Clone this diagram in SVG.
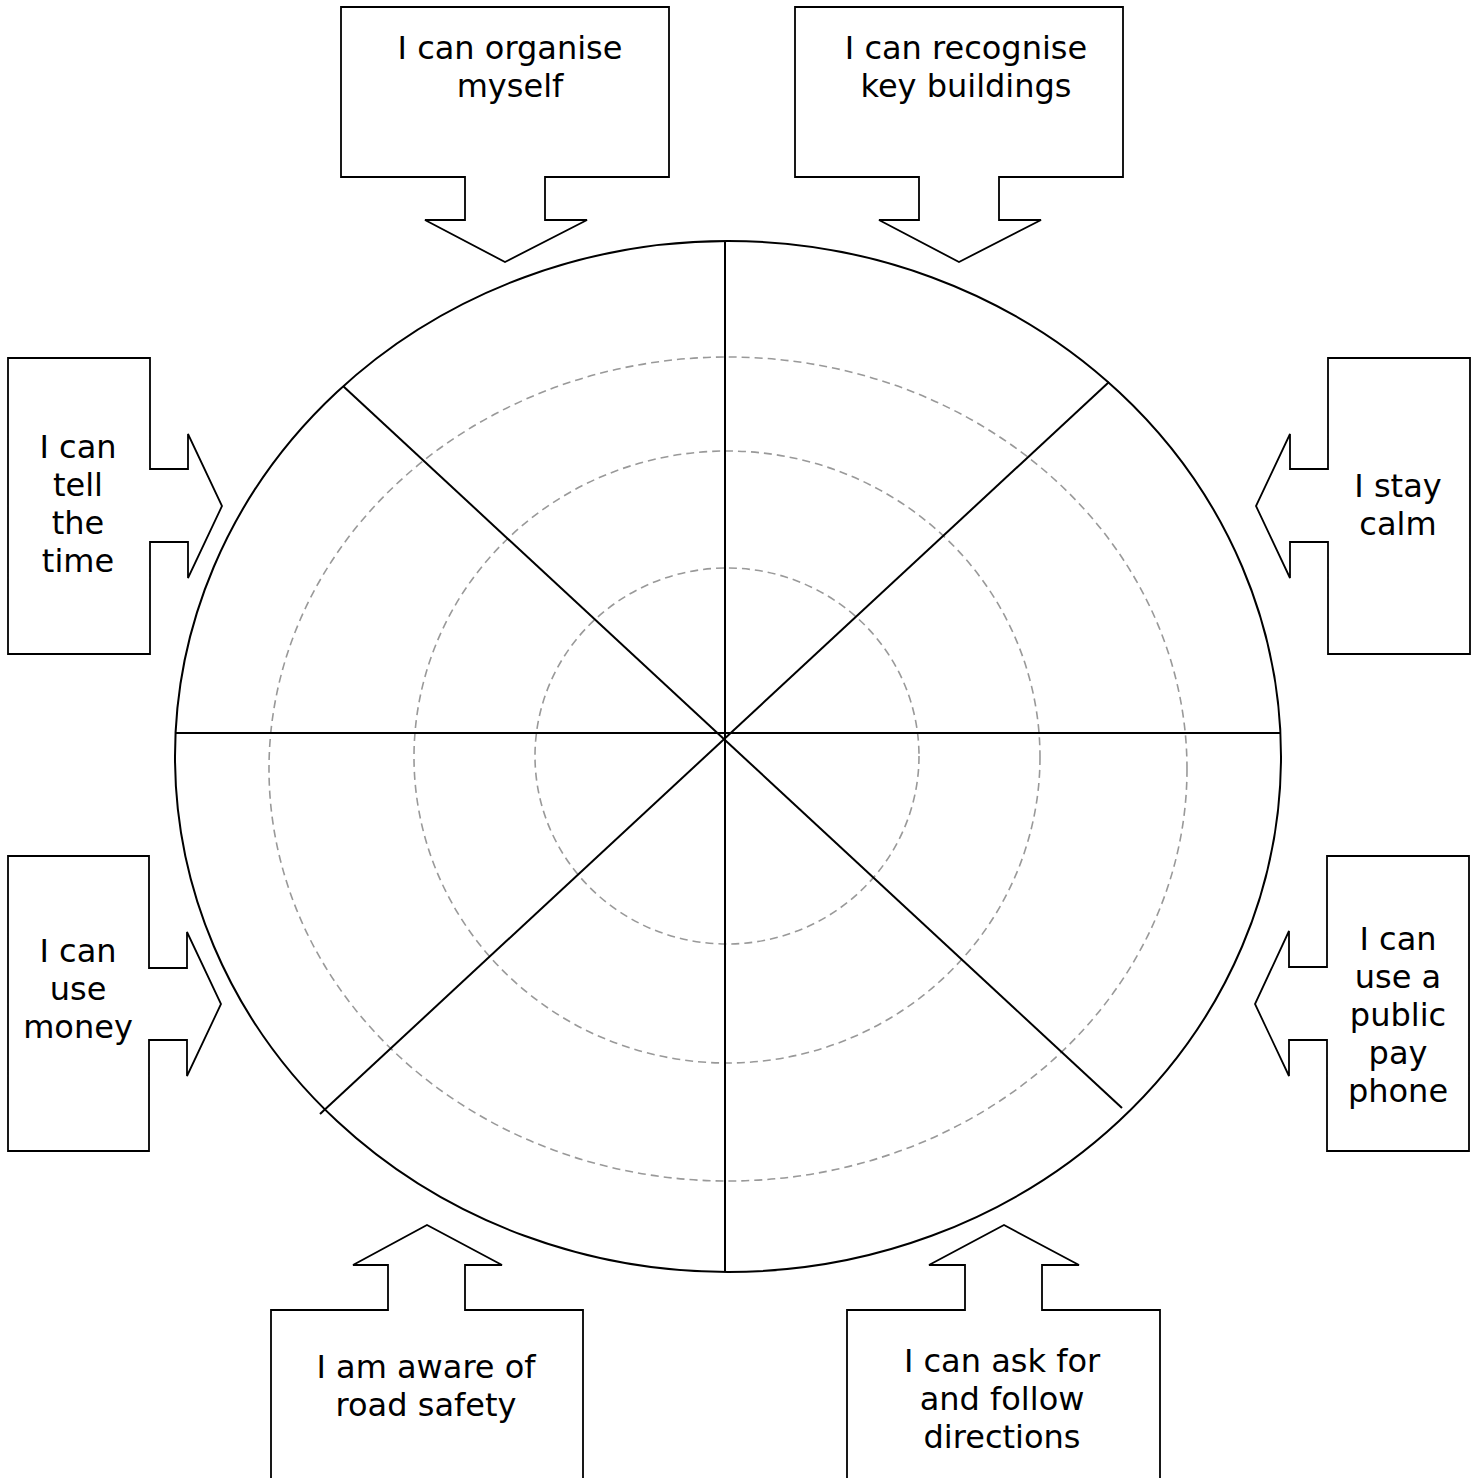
<svg xmlns="http://www.w3.org/2000/svg" width="1477" height="1478" viewBox="0 0 1477 1478">
<style>
.box{fill:#fff;stroke:#000;stroke-width:1.8;stroke-linejoin:miter}
.ln{stroke:#000;stroke-width:2;fill:none}
.ring{fill:none;stroke:#999;stroke-width:1.6;stroke-dasharray:8 5}
.t{font-family:"DejaVu Sans",Verdana,sans-serif;font-size:32px;fill:#000;text-anchor:middle}
</style>
<rect width="1477" height="1478" fill="#fff"/>
<g id="wheel">
<ellipse cx="728" cy="756.5" rx="553" ry="515.5" class="ln"/>
<ellipse cx="728" cy="769" rx="459" ry="412" class="ring"/>
<ellipse cx="727" cy="757" rx="313" ry="306" class="ring"/>
<ellipse cx="727" cy="756" rx="192" ry="188" class="ring"/>
</g>
<g id="connectors">
<line x1="725" y1="241" x2="725" y2="1272" class="ln"/>
<line x1="175" y1="733" x2="1281" y2="733" class="ln"/>
<line x1="343" y1="386" x2="1122" y2="1108" class="ln"/>
<line x1="1109" y1="382" x2="320" y2="1114" class="ln"/>
</g>
<g id="organise">
<path class="box" d="M341,7 H669 V177 H545 V220 H587 L505,262 L425,220 H465 V177 H341 Z"/>
<text class="t" x="510" y="59">I can organise</text>
<text class="t" x="510" y="97">myself</text>
</g>
<g id="buildings">
<path class="box" d="M795,7 H1123 V177 H999 V220 H1041 L959,262 L879,220 H919 V177 H795 Z"/>
<text class="t" x="966" y="59">I can recognise</text>
<text class="t" x="966" y="97">key buildings</text>
</g>
<g id="time">
<path class="box" d="M8,358 H150 V469 H188 V434 L222,506 L188,578 V542 H150 V654 H8 Z"/>
<text class="t" x="78" y="458">I can</text>
<text class="t" x="78" y="496">tell</text>
<text class="t" x="78" y="534">the</text>
<text class="t" x="78" y="572">time</text>
</g>
<g id="calm">
<path class="box" d="M1470,358 H1328 V469 H1290 V434 L1256,506 L1290,578 V542 H1328 V654 H1470 Z"/>
<text class="t" x="1398" y="497">I stay</text>
<text class="t" x="1398" y="535">calm</text>
</g>
<g id="money">
<path class="box" d="M8,856 H149 V968 H187 V932 L221,1004 L187,1076 V1040 H149 V1151 H8 Z"/>
<text class="t" x="78" y="962">I can</text>
<text class="t" x="78" y="1000">use</text>
<text class="t" x="78" y="1038">money</text>
</g>
<g id="phone">
<path class="box" d="M1469,856 H1327 V967 H1289 V931 L1255,1004 L1289,1076 V1040 H1327 V1151 H1469 Z"/>
<text class="t" x="1398" y="950">I can</text>
<text class="t" x="1398" y="988">use a</text>
<text class="t" x="1398" y="1026">public</text>
<text class="t" x="1398" y="1064">pay</text>
<text class="t" x="1398" y="1102">phone</text>
</g>
<g id="road">
<path class="box" d="M271,1480 V1310 H388 V1265 H353 L427,1225 L502,1265 H465 V1310 H583 V1480"/>
<text class="t" x="426" y="1378">I am aware of</text>
<text class="t" x="426" y="1416">road safety</text>
</g>
<g id="directions">
<path class="box" d="M847,1480 V1310 H965 V1265 H929 L1004,1225 L1079,1265 H1042 V1310 H1160 V1480"/>
<text class="t" x="1002" y="1372">I can ask for</text>
<text class="t" x="1002" y="1410">and follow</text>
<text class="t" x="1002" y="1448">directions</text>
</g>
</svg>
